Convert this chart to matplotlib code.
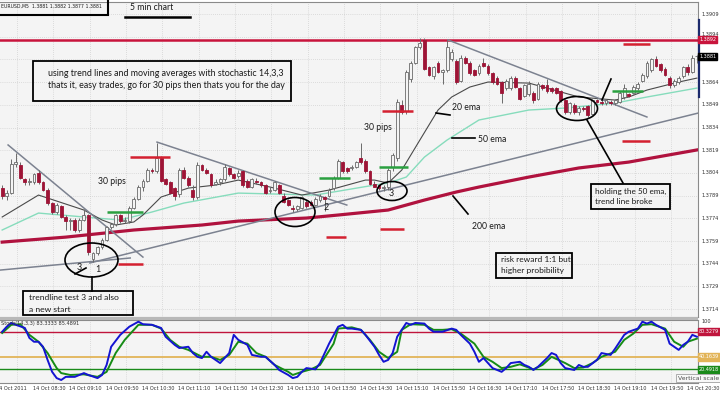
import matplotlib
matplotlib.use("Agg")
import matplotlib.pyplot as plt
import matplotlib.transforms as mtrans
from matplotlib.patches import Ellipse, Rectangle
from matplotlib.lines import Line2D
import numpy as np

# ---------------- data (prices stored as pips above BASE) ----------------
BASE = 1.3700
opens = [94, 89, 91, 110, 109, 100, 98, 98, 104, 98, 93, 84, 78, 82, 75, 72, 73, 66, 73, 76,
         47, 51, 55, 60, 68, 70, 76, 72, 72, 81, 87, 95, 99, 106, 105, 114, 100, 98, 94, 90,
         106, 101, 93, 88, 109, 106, 103, 97, 98, 100, 107, 103, 102, 105, 99, 95, 99, 98, 96, 92,
         93, 96, 89, 86, 81, 80, 81, 85, 85, 83, 86, 88, 89, 94, 101, 111, 107, 107, 108, 114,
         112, 105, 97, 96, 94, 95, 108, 114, 149, 145, 166, 177, 187, 192, 174, 168, 177, 171, 172, 179,
         178, 165, 180, 177, 172, 170, 177, 175, 170, 167, 164, 160, 160, 167, 160, 155, 156, 157, 153, 162,
         162, 160, 160, 158, 152, 144, 149, 144, 147, 148, 143, 152, 151, 150, 151, 150, 151, 154, 156, 157,
         160, 165, 168, 172, 179, 176, 173, 167, 162, 164, 168, 174, 171, 181]
highs = [96, 93, 113, 117, 111, 101, 101, 104, 106, 99, 94, 85, 84, 83, 76, 74, 74, 74, 80, 77,
         52, 56, 61, 69, 71, 77, 77, 75, 82, 88, 96, 100, 107, 107, 124, 115, 101, 99, 95, 107,
         108, 102, 96, 111, 110, 107, 104, 100, 101, 110, 108, 104, 106, 106, 100, 101, 101, 99, 97, 95,
         99, 97, 91, 87, 83, 83, 89, 86, 86, 88, 90, 89, 94, 102, 113, 112, 108, 109, 112, 124,
         113, 106, 99, 97, 96, 107, 117, 153, 152, 172, 178, 188, 193, 193, 175, 175, 178, 173, 192, 186,
         179, 182, 181, 178, 173, 176, 180, 176, 171, 168, 165, 166, 168, 168, 161, 163, 165, 158, 164, 163,
         166, 161, 161, 159, 153, 151, 150, 148, 148, 149, 153, 153, 152, 153, 152, 153, 158, 163, 157, 162,
         164, 170, 178, 180, 181, 177, 174, 168, 166, 168, 175, 176, 182, 182]
lows = [87, 86, 90, 108, 100, 96, 96, 97, 97, 92, 83, 77, 77, 74, 66, 66, 65, 65, 72, 50,
        45, 50, 54, 59, 67, 69, 71, 71, 71, 80, 86, 92, 98, 104, 104, 98, 96, 90, 86, 88,
        100, 95, 86, 87, 105, 103, 95, 96, 96, 99, 102, 100, 101, 95, 94, 94, 97, 95, 90, 91,
        92, 90, 84, 82, 78, 79, 80, 81, 82, 82, 85, 79, 88, 93, 100, 104, 104, 106, 107, 110,
        104, 96, 95, 93, 92, 93, 105, 112, 143, 143, 164, 176, 186, 172, 168, 166, 170, 163, 171, 178,
        163, 164, 176, 169, 168, 169, 174, 169, 163, 162, 150, 159, 159, 160, 152, 154, 155, 150, 152, 159,
        157, 157, 156, 151, 143, 143, 143, 142, 145, 141, 142, 150, 149, 149, 149, 149, 150, 153, 154, 156,
        159, 164, 167, 171, 174, 171, 168, 160, 161, 163, 167, 169, 170, 177]
closes = [89, 91, 110, 111, 101, 98, 99, 103, 98, 93, 84, 78, 83, 75, 72, 73, 66, 73, 76, 52,
          51, 55, 60, 68, 70, 76, 72, 73, 81, 87, 95, 99, 106, 105, 114, 99, 97, 91, 89, 106,
          101, 96, 88, 109, 106, 104, 96, 98, 100, 108, 103, 101, 104, 96, 95, 100, 98, 96, 91, 93,
          98, 91, 85, 83, 80, 82, 88, 82, 83, 87, 89, 87, 93, 101, 112, 105, 105, 108, 111, 111,
          105, 97, 95, 94, 95, 106, 116, 151, 144, 171, 177, 187, 190, 173, 169, 174, 171, 172, 187, 184,
          164, 180, 177, 170, 169, 175, 175, 170, 164, 163, 157, 165, 167, 161, 153, 162, 163, 152, 163, 160,
          158, 158, 157, 152, 144, 150, 144, 147, 146, 142, 152, 151, 150, 152, 150, 152, 157, 160, 155, 161,
          163, 169, 177, 179, 175, 172, 169, 162, 165, 167, 174, 171, 180, 181]

# moving averages (bar index, pips above BASE)
ema20_bars = [0, 8, 18, 22, 25, 29, 31, 35, 41, 47, 52, 59, 66, 72, 80, 82, 85, 88, 92, 96,
              99, 103, 107, 116, 120, 127, 135, 138, 142, 149, 153]
ema20_pips = [74.9, 89.4, 79.5, 72.9, 69.6, 71.6, 76.2, 88.1, 94.0, 96.0, 99.3, 94.7, 89.4, 92.7,
              99.3, 99.3, 97.3, 105.9, 125.8, 145.6, 154.2, 160.8, 164.1, 163.4, 160.1, 154.2,
              152.2, 154.2, 158.8, 164.1, 166.7]
ema50_bars = [0, 8, 18, 26, 33, 40, 52, 69, 82, 85, 89, 93, 98, 105, 116, 124, 135, 142, 153]
ema50_pips = [66.3, 77.5, 74.9, 72.9, 78.2, 84.1, 90.7, 89.4, 96.0, 97.3, 101.3, 114.5, 125.8,
              139.0, 145.6, 146.9, 150.2, 154.2, 160.1]
ema200_bars = [0, 14, 29, 44, 52, 67, 74, 85, 93, 100, 105, 116, 127, 138, 153]
ema200_pips = [58.3, 61.6, 66.3, 69.6, 72.2, 74.2, 76.2, 79.5, 86.1, 91.4, 94.7, 101.3, 107.3,
               111.2, 119.2]

# stochastic 14,3,3
stk_bars = [0, 1, 2, 3, 5, 6, 7, 8, 9, 10, 11, 12, 13, 14, 16, 17, 18, 19, 21, 22, 23, 24, 26, 28,
            30, 31, 33, 35, 36, 38, 39, 41, 42, 43, 44, 45, 46, 47, 48, 50, 51, 52, 54, 55, 57, 58,
            60, 61, 63, 64, 65, 66, 67, 69, 70, 72, 74, 75, 76, 77, 79, 80, 82, 83, 84, 85, 86, 87,
            89, 90, 91, 93, 94, 95, 97, 99, 100, 101, 103, 104, 105, 106, 107, 108, 110, 111, 112,
            114, 115, 116, 117, 118, 120, 121, 122, 123, 124, 126, 127, 128, 129, 131, 132, 134, 135,
            137, 138, 140, 141, 142, 143, 144, 146, 147, 149, 150, 151, 152, 153]
stk_vals = [80, 88, 94, 91, 86, 70, 64, 64, 56, 35, 16, 6, 3, 8, 8, 11, 14, 11, 6, 11, 27, 56, 75, 88,
            96, 92, 91, 86, 72, 59, 54, 56, 46, 40, 38, 48, 40, 35, 30, 46, 75, 67, 59, 43, 40, 40,
            27, 19, 11, 6, 8, 16, 22, 20, 30, 61, 88, 91, 85, 85, 83, 75, 56, 43, 32, 35, 46, 72,
            94, 91, 94, 93, 85, 80, 80, 85, 83, 75, 61, 48, 32, 38, 30, 22, 16, 22, 30,
            32, 27, 24, 19, 24, 38, 46, 43, 30, 22, 19, 27, 24, 24, 35, 46, 43, 53,
            75, 80, 85, 96, 93, 96, 91, 83, 61, 51, 59, 64, 75, 72]
std_bars = [0, 2, 4, 6, 8, 10, 12, 13, 15, 18, 21, 23, 25, 27, 30, 33, 35, 37, 39, 41, 44, 46, 48,
            50, 52, 54, 56, 58, 60, 63, 64, 66, 68, 70, 73, 74, 77, 79, 81, 83, 85, 87, 88, 90, 93,
            95, 97, 99, 101, 104, 106, 108, 110, 112, 114, 117, 119, 121, 124, 126, 128, 130, 132,
            135, 137, 139, 141, 143, 146, 148, 150, 151, 153]
std_vals = [78, 91, 92, 75, 64, 46, 22, 14, 11, 12, 8, 16, 46, 67, 91, 91, 85, 67, 56, 51, 40, 40, 35,
            43, 64, 61, 46, 40, 27, 16, 11, 16, 20, 27, 61, 85, 87, 83, 67, 48, 38, 48, 83, 92, 91,
            83, 83, 84, 77, 61, 40, 32, 22, 24, 28, 20, 27, 40, 30, 22, 23, 30, 40,
            48, 67, 77, 91, 92, 85, 64, 56, 64, 69]
stoch_levels = [80, 40, 20]

price_ticks = [1.3909, 1.3894, 1.3864, 1.3849, 1.3834, 1.3819, 1.3804, 1.3789,
               1.3774, 1.3759, 1.3744, 1.3729, 1.3714]
grid_prices = [1.3909, 1.3894, 1.3879, 1.3864, 1.3849, 1.3834, 1.3819, 1.3804, 1.3789,
               1.3774, 1.3759, 1.3744, 1.3729, 1.3714]
time_labels = ["14 Oct 08:30", "14 Oct 09:10", "14 Oct 09:50", "14 Oct 10:30", "14 Oct 11:10",
               "14 Oct 11:50", "14 Oct 12:30", "14 Oct 13:10", "14 Oct 13:50", "14 Oct 14:30",
               "14 Oct 15:10", "14 Oct 15:50", "14 Oct 16:30", "14 Oct 17:10", "14 Oct 17:50",
               "14 Oct 18:30", "14 Oct 19:10", "14 Oct 19:50", "14 Oct 20:30"]
time_label_bars = [7, 15, 23, 31, 39, 47, 55, 63, 71, 79, 87, 95, 103, 111, 119, 127, 135, 143, 151]
resistance = 1.3892
last_price = 1.3881

# ---------------- figure ----------------
W, H = 720, 394
fig = plt.figure(figsize=(7.2, 3.94), dpi=100)
fig.patch.set_facecolor('white')


def fx(x):
    return x / W


def fy(y):
    return 1 - y / H


BG = '#f4f4f4'
ax = fig.add_axes([0, fy(317), fx(698), fy(2) - fy(317)])
axs = fig.add_axes([0, fy(383), fx(698), fy(320) - fy(383)])
for a in (ax, axs):
    a.set_facecolor(BG)
    a.set_xticks([])
    a.set_yticks([])
    for s in a.spines.values():
        s.set_color('#8a8a8a')
        s.set_linewidth(0.8)
    a.spines['left'].set_visible(False)
    a.set_xlim(-0.48, 153.25)
ax.set_ylim(1.37088, 1.39170)
axs.set_ylim(-1.8, 98.7)

# grids
for k in range(20):
    gx = 3.3 + 8 * k
    ax.axvline(gx, color='#c4c4c4', lw=0.5, ls=(0, (1, 2)), zorder=0)
    axs.axvline(gx, color='#c4c4c4', lw=0.5, ls=(0, (1, 2)), zorder=0)
for p in grid_prices:
    ax.axhline(p, color='#c4c4c4', lw=0.5, ls=(0, (1, 2)), zorder=0)

o = BASE + np.array(opens) / 1e4
h = BASE + np.array(highs) / 1e4
l = BASE + np.array(lows) / 1e4
c = BASE + np.array(closes) / 1e4
xb = np.arange(len(o))
up = c >= o
ax.vlines(xb, l, h, color='#6a6a6a', lw=0.7, zorder=4)
body = np.maximum(np.abs(c - o), 0.00004)
ax.bar(xb[up], body[up], bottom=o[up], width=0.62, color='#f4f4f4', edgecolor='#6a6a6a',
       lw=0.6, zorder=5)
ax.bar(xb[~up], body[~up], bottom=c[~up], width=0.62, color='#9e1436', edgecolor='#9e1436',
       lw=0.6, zorder=5)

ax.plot(ema200_bars, BASE + np.array(ema200_pips) / 1e4, color='#b0123e', lw=2.3, zorder=3)
ax.plot(ema50_bars, BASE + np.array(ema50_pips) / 1e4, color='#86dcbc', lw=1.0, zorder=3)
ax.plot(ema20_bars, BASE + np.array(ema20_pips) / 1e4, color='#4a4a4a', lw=0.8, zorder=3)

ax.axhline(resistance, color='#c8143c', lw=1.8, zorder=3)

# trend lines (bar, price)
TL = '#7c8290'
trend_lines = [((1.3, 1.38225), (31.0, 1.37484)),
               ((-0.5, 1.37398), (28.2, 1.37478)),
               ((19.3, 1.37445), (153.3, 1.38436)),
               ((34.1, 1.38244), (75.9, 1.37828)),
               ((98.2, 1.38919), (142.0, 1.38410))]
for (x0, y0), (x1, y1) in trend_lines:
    ax.plot([x0, x1], [y0, y1], color=TL, lw=1.1, zorder=3)

# entry / target marks
marks = [(28.2, 36.9, 1.38145, '#d42030'), (23.1, 31.0, 1.37782, '#2aa040'),
         (25.5, 31.0, 1.37438, '#d42030'), (69.8, 76.6, 1.38006, '#2aa040'),
         (71.3, 75.7, 1.37616, '#d42030'), (83.0, 89.4, 1.38079, '#2aa040'),
         (83.2, 88.5, 1.37669, '#d42030'), (83.7, 90.5, 1.38449, '#d42030'),
         (136.7, 142.7, 1.38892, '#d42030'), (134.3, 141.1, 1.38582, '#2aa040'),
         (136.5, 142.7, 1.38251, '#d42030')]
for x0, x1, yv, col in marks:
    ax.plot([x0, x1], [yv, yv], color=col, lw=1.8, zorder=6, solid_capstyle='butt')

# stochastic
axs.axhline(stoch_levels[0], color='#c0143c', lw=1.0)
axs.axhline(stoch_levels[1], color='#e2b458', lw=1.3)
axs.axhline(stoch_levels[2], color='#1a8a1a', lw=1.0)
axs.plot(std_bars, std_vals, color='#168c16', lw=1.4, zorder=3)
axs.plot(stk_bars, stk_vals, color='#1414d2', lw=1.4, zorder=4)

# separator between windows
fig.add_artist(Rectangle((0, fy(320)), fx(698), (3) / H, transform=fig.transFigure,
                         color='#b8b8b8', lw=0))

# ---------------- axis labels ----------------
AXF = dict(family='DejaVu Sans', fontsize=3.6, color='#303030')
trY = mtrans.blended_transform_factory(fig.transFigure, ax.transData)
for p in price_ticks:
    yy = p + (0.00012 if p == 1.3894 else 0)
    fig.text(fx(702), yy, f"{p:.4f}", transform=trY, va='center', ha='left', **AXF)
fig.text(fx(699), resistance, f"{resistance:.4f}", transform=trY, va='center', ha='left',
         family='DejaVu Sans', fontsize=3.5, color='white',
         bbox=dict(boxstyle='square,pad=0.2', fc='#c8143c', ec='#c8143c'))
fig.text(fx(699), last_price, f"{last_price:.4f}", transform=trY, va='center', ha='left',
         family='DejaVu Sans', fontsize=3.5, color='white',
         bbox=dict(boxstyle='square,pad=0.25', fc='black', ec='black'))
fig.add_artist(Line2D([fx(698.5), fx(698.5)], [fy(20), fy(97)], transform=fig.transFigure,
                      color='#1c2a6c', lw=1.6))

trS = mtrans.blended_transform_factory(fig.transFigure, axs.transData)
fig.text(fx(702), 96, "100", transform=trS, va='center', ha='left', **AXF)
lvl_text = ["80.3279", "40.1639", "20.4918"]
lvl_col = ['#c0143c', '#e2b458', '#1a8a1a']
for v, t, col in zip(stoch_levels, lvl_text, lvl_col):
    fig.text(fx(699), v, t, transform=trS, va='center', ha='left', family='DejaVu Sans',
             fontsize=3.5, color='white', bbox=dict(boxstyle='square,pad=0.25', fc=col, ec=col))
fig.text(fx(1), fy(325), "Stoch(14,3,3) 83.3333 85.4891", **AXF)

trT = mtrans.blended_transform_factory(axs.transData, fig.transFigure)
for b, t in zip(time_label_bars, time_labels):
    fig.text(b - 0.2, fy(388), t, transform=trT, va='center', ha='left', **AXF)
fig.text(fx(-4), fy(388), "14 Oct 2011", va='center', ha='left', **AXF)

ftxt = dict(family='Lato', fontsize=6.4, color='#1a1a1a')


def fline(x0, y0, x1, y1, lw=1.3, color='black'):
    fig.add_artist(Line2D([fx(x0), fx(x1)], [fy(y0), fy(y1)], transform=fig.transFigure,
                          color=color, lw=lw))


def fbox(x0, y0, x1, y1, lw=1.3):
    fig.add_artist(Rectangle((fx(x0), fy(y1)), (x1 - x0) / W, (y1 - y0) / H,
                             transform=fig.transFigure, fill=False, ec='black', lw=lw))


def fell(cx, cy, w, hh, lw=1.2):
    fig.add_artist(Ellipse((fx(cx), fy(cy)), w / W, hh / H, transform=fig.transFigure,
                           fill=False, ec='black', lw=lw))


def ftext(x, y, s, **kw):
    d = dict(ftxt)
    d.update(kw)
    fig.text(fx(x), fy(y), s, va='center', ha='left', **d)


# header box
fbox(-2, -1, 108, 15, lw=1.5)
ftext(1, 6, "EURUSD,M5  1.3881 1.3882 1.3877 1.3881", family='DejaVu Sans', fontsize=3.3)
ftext(130, 8, "5 min chart", fontsize=6.2)
fline(125, 17, 190, 17, lw=1.8)

fbox(33, 61, 291, 101)
ftext(48, 74, "using trend lines and moving averages with stochastic 14,3,3")
ftext(48, 85, "thats it, easy trades, go for 30 pips then thats you for the day")

ftext(98, 181, "30 pips", fontsize=6.2)
ftext(364, 127, "30 pips", fontsize=6.2)
ftext(452, 108, "20 ema", fontsize=6.2)
fline(436, 113, 450, 115, lw=1.2)
ftext(478, 139, "50 ema", fontsize=6.2)
fline(452, 138, 475, 138, lw=1.2)
ftext(472, 226, "200 ema", fontsize=6.2)
fline(453, 196, 468, 214, lw=1.2)

fell(91.5, 260, 53, 34)
fline(92, 277, 92, 291, lw=1.2)
ftext(77, 267, "3")
ftext(95, 270, "1")
fline(75, 274, 86, 268, lw=1.2)
fbox(23, 291, 133, 315)
ftext(29, 298, "trendline test 3 and also", fontsize=6.1)
ftext(29, 309, "a new start", fontsize=6.1)

fell(295, 212, 40, 29)
ftext(324, 208, "2")
fell(392, 191, 30, 19)
ftext(389, 194, "3")

fell(577, 108.5, 41, 24)
fline(587, 120, 623, 183, lw=1.2)
fline(602, 100, 611, 79, lw=1.2)
fbox(591, 184, 670, 209)
ftext(595, 191, "holding the 50 ema,", fontsize=5.9)
ftext(595, 202, "trend line broke", fontsize=5.9)

fbox(496, 253, 572, 278)
ftext(501, 260, "risk reward 1:1 but", fontsize=6.0)
ftext(501, 271, "higher probibility", fontsize=6.0)

fig.text(fx(678), fy(378), "Vertical scale", va='center', ha='left', family='DejaVu Sans',
         fontsize=4.4, color='#505050',
         bbox=dict(boxstyle='square,pad=0.3', fc='#f8f8f8', ec='#a0a0a0', lw=0.6))

fig.savefig("out.png", dpi=100, facecolor='white')
